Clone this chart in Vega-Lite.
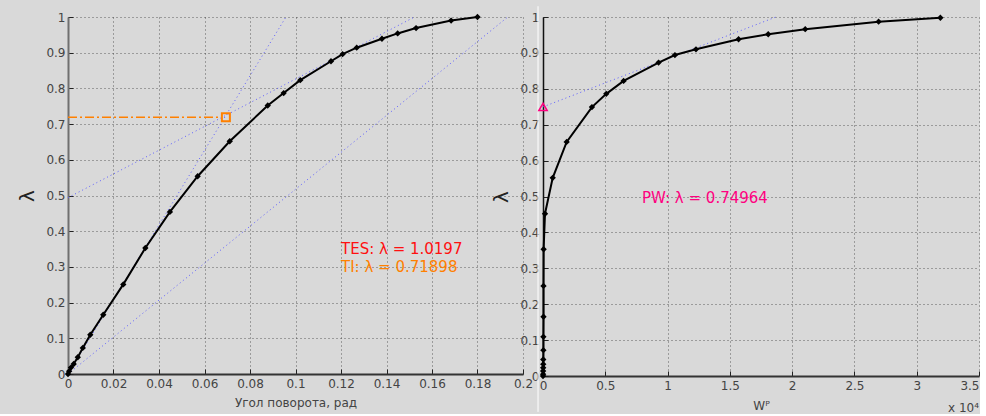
{
  "$schema": "https://vega.github.io/schema/vega-lite/v6.json",
  "background": "#d9d9d9",
  "padding": {"left": 17, "top": 5, "right": 0, "bottom": 0},
  "bounds": "flush",
  "spacing": 20,
  "config": {
    "font": "DejaVu Sans",
    "view": {"stroke": null},
    "axis": {
      "grid": true,
      "gridColor": "#333333",
      "gridDash": [1, 3],
      "gridOpacity": 0.75,
      "gridWidth": 1,
      "labelFont": "DejaVu Sans",
      "labelFontSize": 12,
      "labelColor": "#444444",
      "titleFont": "DejaVu Sans",
      "titleFontSize": 12,
      "titleFontWeight": "normal",
      "titleColor": "#444444",
      "tickColor": "#222222",
      "tickSize": -5,
      "tickWidth": 1,
      "labelPadding": 9,
      "domainWidth": 2,
      "domainColor": "#333333",
      "labelFlush": false,
      "labelOverlap": false,
      "format": "~g"
    }
  },
  "datasets": {
    "curveL": [
      {"x": 0, "y": 0}, {"x": 0.0005, "y": 0.008}, {"x": 0.0013, "y": 0.018}, {"x": 0.0025, "y": 0.028},
      {"x": 0.0043, "y": 0.047}, {"x": 0.0065, "y": 0.073}, {"x": 0.0098, "y": 0.11}, {"x": 0.0155, "y": 0.166},
      {"x": 0.0243, "y": 0.251}, {"x": 0.034, "y": 0.353}, {"x": 0.0448, "y": 0.454}, {"x": 0.057, "y": 0.554},
      {"x": 0.0711, "y": 0.652}, {"x": 0.0878, "y": 0.752}, {"x": 0.0948, "y": 0.787}, {"x": 0.1021, "y": 0.823},
      {"x": 0.1156, "y": 0.876}, {"x": 0.1207, "y": 0.896}, {"x": 0.1269, "y": 0.914}, {"x": 0.138, "y": 0.939},
      {"x": 0.1449, "y": 0.954}, {"x": 0.153, "y": 0.969}, {"x": 0.1684, "y": 0.99}, {"x": 0.18, "y": 1.0}
    ],
    "tangL": [
      {"line": "a", "x": 0, "y": 0}, {"line": "a", "x": 0.0958, "y": 1},
      {"line": "b", "x": 0, "y": 0.494}, {"line": "b", "x": 0.1523, "y": 1},
      {"line": "c", "x": 0, "y": 0}, {"line": "c", "x": 0.1933, "y": 1}
    ],
    "tiLine": [{"x": 0, "y": 0.71898}, {"x": 0.0672, "y": 0.71898}],
    "tiPoint": [{"x": 0.0694, "y": 0.71898}],
    "labelsL": [
      {"x": 0.12, "y": 0.35, "t": "TES: λ = 1.0197", "c": "TES"},
      {"x": 0.12, "y": 0.2997, "t": "TI: λ = 0.71898", "c": "TI"}
    ],
    "curveR": [
      {"x": 0, "y": 0}, {"x": 0.001, "y": 0.005}, {"x": 0.001, "y": 0.014}, {"x": 0.0015, "y": 0.023},
      {"x": 0.002, "y": 0.033}, {"x": 0.002, "y": 0.046}, {"x": 0.003, "y": 0.072}, {"x": 0.003, "y": 0.109},
      {"x": 0.004, "y": 0.165}, {"x": 0.004, "y": 0.251}, {"x": 0.005, "y": 0.353}, {"x": 0.016, "y": 0.452},
      {"x": 0.078, "y": 0.552}, {"x": 0.19, "y": 0.652}, {"x": 0.393, "y": 0.749}, {"x": 0.508, "y": 0.786},
      {"x": 0.647, "y": 0.822}, {"x": 0.928, "y": 0.873}, {"x": 1.059, "y": 0.894}, {"x": 1.228, "y": 0.91},
      {"x": 1.57, "y": 0.938}, {"x": 1.808, "y": 0.952}, {"x": 2.105, "y": 0.966}, {"x": 2.694, "y": 0.987},
      {"x": 3.19, "y": 0.998}
    ],
    "tangR": [{"x": 0, "y": 0.74964}, {"x": 1.87, "y": 1.0}],
    "pwPoint": [{"x": 0, "y": 0.74964}],
    "pwLabel": [{"x": 0.795, "y": 0.496, "t": "PW: λ = 0.74964"}],
    "expLabel": [{"x": 3.5, "y": -0.088, "t": "x 10⁴"}],
    "edge": [{"x": -0.04, "y": -0.1, "y2": 1.03}]
  },
  "hconcat": [
    {
      "width": 455,
      "height": 357,
      "encoding": {
        "x": {"field": "x", "type": "quantitative", "scale": {"domain": [0, 0.2], "nice": false},
              "axis": {"values": [0, 0.02, 0.04, 0.06, 0.08, 0.1, 0.12, 0.14, 0.16, 0.18, 0.2], "title": "Угол поворота, рад", "titlePadding": 8}},
        "y": {"field": "y", "type": "quantitative", "scale": {"domain": [0, 1], "nice": false},
              "axis": {"values": [0, 0.1, 0.2, 0.3, 0.4, 0.5, 0.6, 0.7, 0.8, 0.9, 1], "title": "λ", "titleFontSize": 20, "titleColor": "#222222", "titlePadding": 8, "domainColor": "#707070", "labelPadding": 8}}
      },
      "layer": [
        {"data": {"name": "tangL"}, "mark": {"type": "line", "color": "#5c5cff", "strokeWidth": 1, "strokeDash": [1, 3]},
         "encoding": {"detail": {"field": "line"}}},
        {"data": {"name": "tiLine"}, "mark": {"type": "line", "color": "#ff8000", "strokeWidth": 1.5, "strokeDash": [9, 3, 2, 3]}},
        {"data": {"name": "curveL"}, "mark": {"type": "line", "color": "#000000", "strokeWidth": 2},
         "encoding": {"order": {"field": "y"}}},
        {"data": {"name": "curveL"}, "mark": {"type": "point", "shape": "diamond", "filled": true, "color": "#000000", "size": 40, "opacity": 1}},
        {"data": {"name": "tiPoint"}, "mark": {"type": "point", "shape": "square", "filled": false, "color": "#ff8000", "size": 64, "strokeWidth": 2, "opacity": 1}},
        {"data": {"name": "labelsL"}, "mark": {"type": "text", "align": "left", "baseline": "middle", "fontSize": 15, "font": "DejaVu Sans"},
         "encoding": {"text": {"field": "t"}, "color": {"field": "c", "type": "nominal", "scale": {"domain": ["TES", "TI"], "range": ["#ff1010", "#ff8000"]}, "legend": null}}}
      ]
    },
    {
      "width": 436,
      "height": 359,
      "encoding": {
        "x": {"field": "x", "type": "quantitative", "scale": {"domain": [0, 3.5], "nice": false},
              "axis": {"values": [0, 0.5, 1, 1.5, 2, 2.5, 3, 3.5], "title": "Wᴾ", "titlePadding": 9,
                       "labelAlign": {"condition": {"test": "datum.value >= 3.5", "value": "right"}, "value": "center"}}},
        "y": {"field": "y", "type": "quantitative", "scale": {"domain": [0, 1], "nice": false},
              "axis": {"values": [0, 0.1, 0.2, 0.3, 0.4, 0.5, 0.6, 0.7, 0.8, 0.9, 1], "title": "λ", "titleFontSize": 20, "titleColor": "#222222", "titlePadding": 8, "domainColor": "#111111", "domainWidth": 1.5, "labelPadding": 9}}
      },
      "layer": [
        {"data": {"name": "edge"}, "mark": {"type": "rule", "color": "#ffffff", "strokeWidth": 1},
         "encoding": {"y2": {"field": "y2"}}},
        {"data": {"name": "tangR"}, "mark": {"type": "line", "color": "#5c5cff", "strokeWidth": 1, "strokeDash": [1, 3]}},
        {"data": {"name": "curveR"}, "mark": {"type": "line", "color": "#000000", "strokeWidth": 2},
         "encoding": {"order": {"field": "y"}}},
        {"data": {"name": "curveR"}, "mark": {"type": "point", "shape": "diamond", "filled": true, "color": "#000000", "size": 40, "opacity": 1}},
        {"data": {"name": "pwPoint"}, "mark": {"type": "point", "shape": "triangle-up", "filled": false, "color": "#ff0080", "size": 70, "strokeWidth": 1.5, "opacity": 1}},
        {"data": {"name": "pwLabel"}, "mark": {"type": "text", "align": "left", "baseline": "middle", "fontSize": 15, "font": "DejaVu Sans", "color": "#ff0080"},
         "encoding": {"text": {"field": "t"}}},
        {"data": {"name": "expLabel"}, "mark": {"type": "text", "align": "right", "baseline": "middle", "fontSize": 12, "font": "DejaVu Sans", "color": "#444444"},
         "encoding": {"text": {"field": "t"}}}
      ]
    }
  ]
}
